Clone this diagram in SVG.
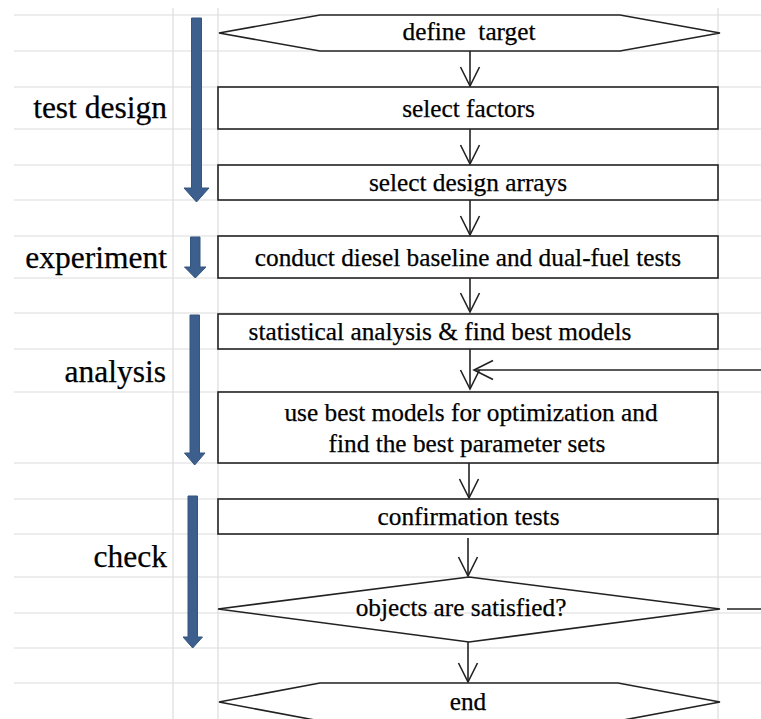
<svg xmlns="http://www.w3.org/2000/svg" width="761" height="719" viewBox="0 0 761 719">
<style>
.grid{stroke:#dcdcdc;stroke-width:1.2;fill:none}
.box{fill:#fff;stroke:#222;stroke-width:1.6}
.dia{fill:none;stroke:#222;stroke-width:1.6}
.t{font-size:25.3px;fill:#000;stroke:#000;stroke-width:0.25;text-anchor:middle}
.lbl{font-size:31.5px;fill:#000;stroke:#000;stroke-width:0.25;text-anchor:end}
.c{stroke:#222;stroke-width:1.6;fill:none}
.blue{fill:#3c5f8e;stroke:#34557f;stroke-width:1}
</style>
<defs>
<marker id="v" markerUnits="userSpaceOnUse" markerWidth="26" markerHeight="26" viewBox="-22 -13 26 26" refX="0" refY="0" orient="auto" overflow="visible">
<path d="M-19,-9.5 L0,0 L-19,9.5" fill="none" stroke="#222" stroke-width="1.6"/>
</marker>
</defs>
<rect width="761" height="719" fill="#fff"/>
<g id="grid" class="grid">
<path d="M14,15H761M14,51H761M14,87H761M14,129H761M14,165H761M14,200H761M14,236H761M14,278H761M14,313H761M14,349H761M14,392H761M14,463H761M14,499H761M14,534H761M14,577H761M14,613H761M14,648H761M14,683H761"/>
<path d="M173,8V719M218,8V719M718,8V719"/>
</g>
<g id="phase-arrows">
<g id="arrow-test-design"><path class="blue" d="M191.5,18H201.5V188H209L196.5,202L184,188H191.5Z"/></g>
<g id="arrow-experiment"><path class="blue" d="M190.5,237H200V267H206L195.3,278L184.5,267H190.5Z"/></g>
<g id="arrow-analysis"><path class="blue" d="M190,315H199.5V453H205L194.7,465L184.5,453H190Z"/></g>
<g id="arrow-check"><path class="blue" d="M188,496H197.5V637H202.5L192.7,648L183,637H188Z"/></g>
</g>
<g id="labels" font-family="Liberation Serif, DejaVu Serif, serif">
<text class="lbl" x="167" y="118">test design</text>
<text class="lbl" x="167" y="268">experiment</text>
<text class="lbl" x="166" y="382">analysis</text>
<text class="lbl" x="167" y="567">check</text>
</g>
<g id="connectors">
<path class="c" d="M470,51V86" marker-end="url(#v)"/>
<path class="c" d="M470,129V164" marker-end="url(#v)"/>
<path class="c" d="M470,200V235" marker-end="url(#v)"/>
<path class="c" d="M470,278V312" marker-end="url(#v)"/>
<path class="c" d="M470,349V389" marker-end="url(#v)"/>
<path class="c" d="M761,370H474" marker-end="url(#v)"/>
<path class="c" d="M469,463V498" marker-end="url(#v)"/>
<path class="c" d="M468,538V576" marker-end="url(#v)"/>
<path class="c" d="M468,642V682" marker-end="url(#v)"/>
<path class="c" d="M727,609H761"/>
</g>
<g id="nodes" font-family="Liberation Serif, DejaVu Serif, serif">
<g id="define-target">
<polygon class="box" points="219,33 320,15 620,15 720,33 620,51 320,51"/>
<text class="t" x="469" y="40" xml:space="preserve">define  target</text>
</g>
<g id="select-factors">
<rect class="box" x="218" y="87" width="500" height="42"/>
<text class="t" x="468.5" y="117">select factors</text>
</g>
<g id="select-design-arrays">
<rect class="box" x="218" y="165" width="500" height="35"/>
<text class="t" x="468" y="191">select design arrays</text>
</g>
<g id="conduct-tests">
<rect class="box" x="218" y="236" width="500" height="42"/>
<text class="t" x="468" y="266">conduct diesel baseline and dual-fuel tests</text>
</g>
<g id="statistical-analysis">
<rect class="box" x="218" y="314" width="500" height="35"/>
<text class="t" x="440" y="340">statistical analysis &amp; find best models</text>
</g>
<g id="optimization">
<rect class="box" x="218" y="392" width="500" height="71"/>
<text class="t" x="471" y="421">use best models for optimization and</text>
<text class="t" x="467" y="452">find the best parameter sets</text>
</g>
<g id="confirmation-tests">
<rect class="box" x="218" y="499" width="500" height="35"/>
<text class="t" x="468.5" y="525">confirmation tests</text>
</g>
<g id="objects-satisfied">
<polygon class="dia" points="218,609 469,577 720,609 469,642"/>
<text class="t" x="461" y="616">objects are satisfied?</text>
</g>
<g id="end">
<polygon class="box" points="219,702 320,683 618,683 720,702 618,721 320,721"/>
<text class="t" x="468" y="710">end</text>
</g>
</g>
</svg>
